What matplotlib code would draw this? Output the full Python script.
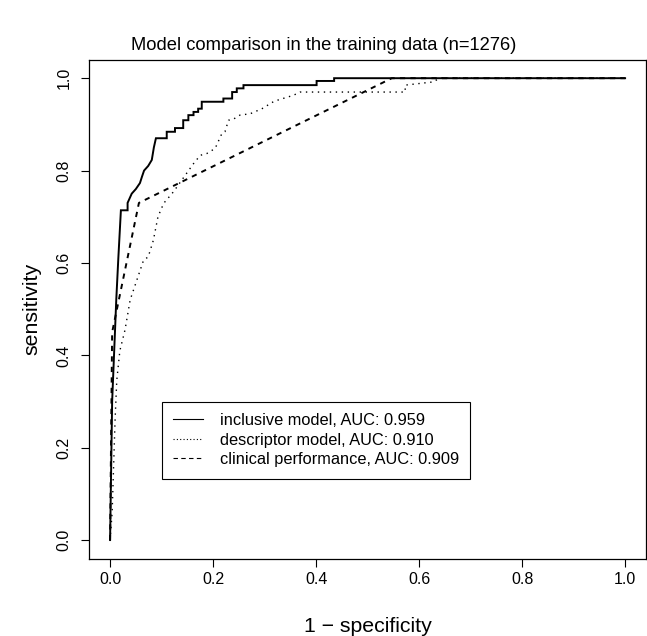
import matplotlib
matplotlib.use("Agg")
import matplotlib.pyplot as plt
from matplotlib.lines import Line2D

# ROC vertices (1 - specificity, sensitivity)
incl_fpr = [0.0, 0.002, 0.004, 0.008, 0.012, 0.016, 0.021, 0.034, 0.034, 0.042, 0.050, 0.058,
            0.062, 0.066, 0.074, 0.081, 0.085, 0.089, 0.110, 0.110, 0.126, 0.126, 0.142,
            0.142, 0.152, 0.152, 0.162, 0.162, 0.171, 0.171, 0.178, 0.178, 0.220, 0.220,
            0.237, 0.237, 0.246, 0.246, 0.259, 0.259, 0.401, 0.401, 0.435, 0.435, 1.0]
incl_tpr = [0.0, 0.15, 0.30, 0.41, 0.52, 0.61, 0.714, 0.714, 0.73, 0.75, 0.76, 0.773,
            0.787, 0.80, 0.81, 0.823, 0.85, 0.87, 0.87, 0.884, 0.884, 0.892, 0.892,
            0.909, 0.909, 0.92, 0.92, 0.927, 0.927, 0.934, 0.934, 0.949, 0.949, 0.956,
            0.956, 0.97, 0.97, 0.978, 0.978, 0.985, 0.985, 0.994, 0.994, 1.0, 1.0]

desc_fpr = [0.0, 0.004, 0.006, 0.0097, 0.013, 0.019, 0.029, 0.039, 0.052, 0.065, 0.074,
            0.084, 0.093, 0.104, 0.123, 0.146, 0.162, 0.175, 0.188, 0.204, 0.217, 0.223,
            0.230, 0.239, 0.252, 0.272, 0.295, 0.317, 0.324, 0.356, 0.369, 0.573, 0.573,
            0.628, 0.639, 1.0]
desc_tpr = [0.0, 0.06, 0.13, 0.26, 0.346, 0.41, 0.455, 0.52, 0.563, 0.606, 0.613,
            0.649, 0.70, 0.729, 0.754, 0.79, 0.815, 0.833, 0.837, 0.848, 0.88, 0.884,
            0.909, 0.911, 0.92, 0.923, 0.934, 0.949, 0.952, 0.963, 0.97, 0.97, 0.985,
            0.992, 1.0, 1.0]

clin_fpr = [0.0, 0.004, 0.056, 0.547, 1.0]
clin_tpr = [0.0, 0.45, 0.73, 1.0, 1.0]

labels = ["inclusive model, AUC: 0.959",
          "descriptor model, AUC: 0.910",
          "clinical performance, AUC: 0.909"]
ticks = [0.0, 0.2, 0.4, 0.6, 0.8, 1.0]

plt.rcParams['font.family'] = ['Liberation Sans', 'DejaVu Sans']

fig = plt.figure(figsize=(6.47, 6.36), dpi=100)
ax = fig.add_axes([0.1383, 0.1218, 0.8597, 0.7843])

ax.plot(incl_fpr, incl_tpr, color="black", lw=1.4, solid_joinstyle="miter")
ax.plot(desc_fpr, desc_tpr, color="black", lw=1.0, dashes=(1, 3.3))
ax.plot(clin_fpr, clin_tpr, color="black", lw=1.4, dashes=(2.7, 2.7))

ax.set_xlim(-0.04, 1.04)
ax.set_ylim(-0.04, 1.04)
ax.set_xticks(ticks)
ax.set_yticks(ticks)
ax.set_xticklabels([f"{t:.1f}" for t in ticks])
ax.set_yticklabels([f"{t:.1f}" for t in ticks], rotation=90, va="center")
ax.tick_params(direction="out", length=6, width=0.8, labelsize=11.5, pad=4)
ax.tick_params(axis="y", pad=7)
for s in ax.spines.values():
    s.set_linewidth(0.9)

ax.set_xlabel("1 \u2212 specificity", fontsize=15.3, labelpad=21)
ax.set_ylabel("sensitivity", fontsize=15.3, labelpad=11)
fig.text(0.5, 1 - 45 / 636, "Model comparison in the training data (n=1276)",
         fontsize=13.2, ha="center", va="center")

handles = [Line2D([], [], color="black", lw=0.8),
           Line2D([], [], color="black", lw=0.8, dashes=(1, 2)),
           Line2D([], [], color="black", lw=0.8, dashes=(4, 3))]
ax.legend(handles, labels, loc="upper left", bbox_to_anchor=(0.1, 0.3),
          bbox_transform=ax.transData, borderaxespad=0, fancybox=False,
          edgecolor="black", framealpha=1, fontsize=11.8, handlelength=1.85,
          handletextpad=1.0, labelspacing=0.28, borderpad=0.7)
ax.get_legend().get_frame().set_linewidth(0.8)

fig.savefig("out.png", dpi=100)
